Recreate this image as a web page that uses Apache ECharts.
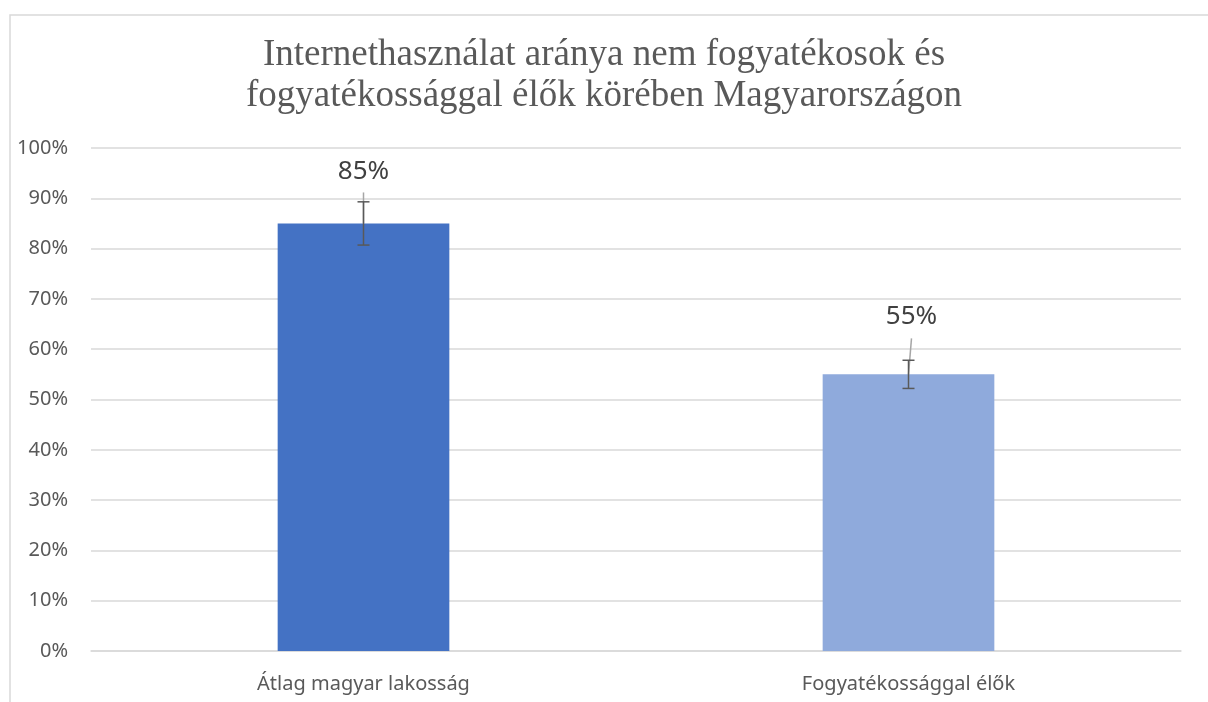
<!DOCTYPE html>
<html>
<head>
<meta charset="utf-8">
<script src="https://cdn.jsdelivr.net/npm/echarts@6/dist/echarts.min.js"></script>
<style>
  html, body { margin: 0; padding: 0; background: #fff; }
  #chart { width: 1208px; height: 702px; }
</style>
</head>
<body>
<div id="chart"></div>
<script>
var categories = ["Átlag magyar lakosság", "Fogyatékossággal élők"];
var values = [85, 55];
var errors = [4.3, 2.8];
var barColors = ["#4472C4", "#8FAADC"];
var yTicks = [0, 10, 20, 30, 40, 50, 60, 70, 80, 90, 100];

// leader line offsets from bar top to label (pixels)
var leaderOffsets = [[0, 31], [3, 36]];
var labelOffsets = [[0, -34], [3, -40]];

var myChart = echarts.init(document.getElementById("chart"));

myChart.setOption({
  animation: false,
  title: {
    text: "Internethasználat aránya nem fogyatékosok és\nfogyatékossággal élők körében Magyarországon",
    left: "center",
    top: 30,
    textStyle: {
      fontFamily: "Liberation Serif",
      fontWeight: "normal",
      fontSize: 37,
      lineHeight: 41,
      color: "#595959",
    },
  },
  graphic: [
    {
      type: "rect",
      silent: true,
      shape: { x: 10, y: 15, width: 1400, height: 900 },
      style: { fill: "none", stroke: "#d9d9d9", lineWidth: 1.5 },
    },
  ],
  grid: { left: 91, right: 27, top: 148, bottom: 51 },
  xAxis: {
    type: "category",
    data: categories,
    axisLine: { lineStyle: { color: "#d9d9d9", width: 1.5 } },
    axisTick: { show: false },
    axisLabel: {
      margin: 23,
      fontFamily: "Noto Sans",
      fontSize: 20,
      color: "#595959",
    },
  },
  yAxis: {
    type: "value",
    min: yTicks[0],
    max: yTicks[yTicks.length - 1],
    interval: 10,
    axisLine: { show: false },
    axisTick: { show: false },
    splitLine: { lineStyle: { color: "#d9d9d9", width: 1.5 } },
    axisLabel: {
      margin: 23,
      fontFamily: "Noto Sans",
      fontSize: 20,
      color: "#595959",
      formatter: "{value}%",
    },
  },
  series: [
    {
      type: "bar",
      barWidth: "31.5%",
      data: values.map(function (v, i) {
        return {
          value: v,
          itemStyle: { color: barColors[i] },
          label: {
            show: true,
            position: "top",
            offset: labelOffsets[i],
            formatter: "{c}%",
            fontFamily: "Noto Sans",
            fontSize: 26,
            color: "#404040",
          },
        };
      }),
    },
    {
      // leader lines from label to bar
      type: "custom",
      silent: true,
      z: 3,
      data: values.map(function (v, i) {
        return [i, v];
      }),
      renderItem: function (params, api) {
        var i = api.value(0);
        var p = api.coord([i, api.value(1)]);
        var off = leaderOffsets[params.dataIndex];
        return {
          type: "line",
          shape: { x1: p[0], y1: p[1], x2: p[0] + off[0], y2: p[1] - off[1] },
          style: { stroke: "#a6a6a6", lineWidth: 1.5 },
        };
      },
    },
    {
      // error bars
      type: "custom",
      silent: true,
      z: 4,
      data: values.map(function (v, i) {
        return [i, v - errors[i], v + errors[i]];
      }),
      renderItem: function (params, api) {
        var i = api.value(0);
        var lo = api.coord([i, api.value(1)]);
        var hi = api.coord([i, api.value(2)]);
        var w = 6;
        var st = { stroke: "#595959", lineWidth: 1.5 };
        return {
          type: "group",
          children: [
            { type: "line", shape: { x1: lo[0], y1: lo[1], x2: hi[0], y2: hi[1] }, style: st },
            { type: "line", shape: { x1: lo[0] - w, y1: lo[1], x2: lo[0] + w, y2: lo[1] }, style: st },
            { type: "line", shape: { x1: hi[0] - w, y1: hi[1], x2: hi[0] + w, y2: hi[1] }, style: st },
          ],
        };
      },
    },
  ],
});
</script>
</body>
</html>
